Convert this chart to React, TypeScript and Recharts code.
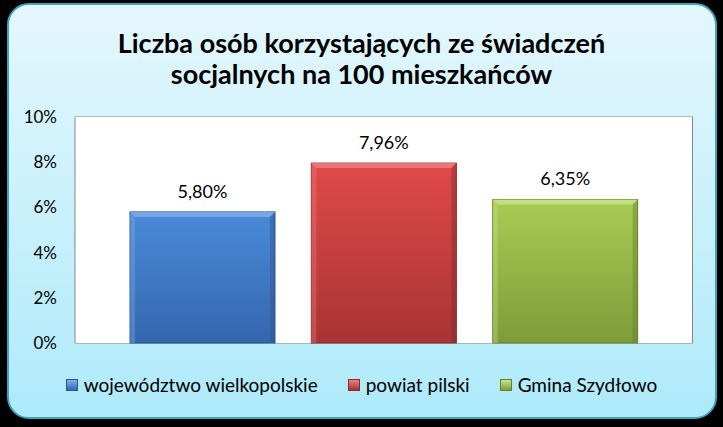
import React from 'react';
import { BarChart, Bar, XAxis, YAxis, CartesianGrid, LabelList, Cell } from 'recharts';

const categories = ['województwo wielkopolskie', 'powiat pilski', 'Gmina Szydłowo'];
const values = [5.8, 7.96, 6.35];
const yTicks = [0, 2, 4, 6, 8, 10];
const titleLines = ['Liczba osób korzystających ze świadczeń', 'socjalnych na 100 mieszkańców'];

const palette = [
  { id: 'gBlue', top: '#4a8ad8', bottom: '#3566ae', edge: '#2c5592', light: '#7fb0ea' },
  { id: 'gRed', top: '#e04a48', bottom: '#a83434', edge: '#8a2a2a', light: '#ee8080' },
  { id: 'gGreen', top: '#a9cc54', bottom: '#7e9c3a', edge: '#66802e', light: '#cde48c' },
];

const data = categories.map((name, i) => ({ name, value: values[i] }));

const FONT = 'Lato, "Open Sans", sans-serif';

const fmt = (v: number) => v.toFixed(2).replace('.', ',') + '%';

function BevelBar(props: any) {
  const { x, y, width, height, index } = props;
  if (!height || height <= 0) return null;
  const p = palette[index % palette.length];
  const b = 5;
  return (
    <g>
      <rect x={x} y={y} width={width} height={height} fill={`url(#${p.id})`} stroke={p.edge} strokeWidth={1} />
      <polygon
        points={`${x},${y} ${x + width},${y} ${x + width - b},${y + b} ${x + b},${y + b}`}
        fill={p.light}
        opacity={0.8}
      />
      <polygon
        points={`${x},${y} ${x + b},${y + b} ${x + b},${y + height} ${x},${y + height}`}
        fill={p.light}
        opacity={0.35}
      />
      <polygon
        points={`${x + width},${y} ${x + width - b},${y + b} ${x + width - b},${y + height} ${x + width},${y + height}`}
        fill={p.edge}
        opacity={0.45}
      />
    </g>
  );
}

function LegendContent() {
  return (
    <div style={{ display: 'flex', justifyContent: 'center', gap: 30, fontFamily: FONT, fontSize: 19, color: '#000' }}>
      {categories.map((c, i) => (
        <div key={c} style={{ display: 'flex', alignItems: 'center', gap: 6 }}>
          <span
            style={{
              display: 'inline-block',
              width: 10,
              height: 10,
              background: `linear-gradient(${palette[i].light}, ${palette[i].bottom})`,
              border: `1px solid ${palette[i].edge}`,
            }}
          />
          <span>{c}</span>
        </div>
      ))}
    </div>
  );
}

export default function App() {
  return (
    <div style={{ position: 'absolute', left: 0, top: 0, width: 723, height: 427, background: '#000', overflow: 'hidden' }}>
      <div
        style={{
          position: 'absolute',
          left: 7,
          top: 3,
          width: 706,
          height: 412,
          borderRadius: 22,
          border: '2px solid #3aa6bd',
          background: 'linear-gradient(#e4f7fd, #aeeafa)',
        }}
      />
      <div
        style={{
          position: 'absolute',
          left: 0,
          top: 27,
          width: 723,
          textAlign: 'center',
          fontFamily: FONT,
          fontWeight: 700,
          fontSize: 27,
          lineHeight: '31px',
          color: '#000',
        }}
      >
        {titleLines.map((t) => (
          <div key={t}>{t}</div>
        ))}
      </div>
      <div style={{ position: 'absolute', left: 0, top: 0 }}>
        <BarChart width={723} height={427} data={data} margin={{ top: 117, right: 30, bottom: 84, left: 0 }} barCategoryGap={18}>
          <defs>
            {palette.map((p) => (
              <linearGradient key={p.id} id={p.id} x1="0" y1="0" x2="0" y2="1">
                <stop offset="0%" stopColor={p.top} />
                <stop offset="100%" stopColor={p.bottom} />
              </linearGradient>
            ))}
          </defs>
          <rect x={75} y={117} width={618} height={226} fill="#fff" />
          <CartesianGrid vertical={false} stroke="#868686" strokeWidth={1} />
          <XAxis
            dataKey="name"
            tick={false}
            axisLine={{ stroke: '#868686' }}
            tickLine={false}
            height={0}
            padding={{ left: 37, right: 37 }}
          />
          <YAxis
            width={75}
            domain={[0, 10]}
            ticks={yTicks}
            tickFormatter={(v: number) => `${v}%`}
            axisLine={{ stroke: '#868686' }}
            tickLine={false}
            tickSize={0}
            tickMargin={18}
            tick={{ fontFamily: FONT, fontSize: 17, fill: '#000' }}
          />
          <Bar dataKey="value" isAnimationActive={false} shape={<BevelBar />}>
            {data.map((d, i) => (
              <Cell key={d.name} fill={palette[i].top} />
            ))}
            <LabelList
              dataKey="value"
              position="top"
              offset={14}
              formatter={(v: any) => fmt(Number(v))}
              style={{ fontFamily: FONT, fontSize: 18, fill: '#000' }}
            />
          </Bar>
          <rect x={692} y={117} width={1} height={226} fill="#868686" />
        </BarChart>
      </div>
      <div style={{ position: 'absolute', left: 0, top: 373, width: 723 }}>
        <LegendContent />
      </div>
    </div>
  );
}
